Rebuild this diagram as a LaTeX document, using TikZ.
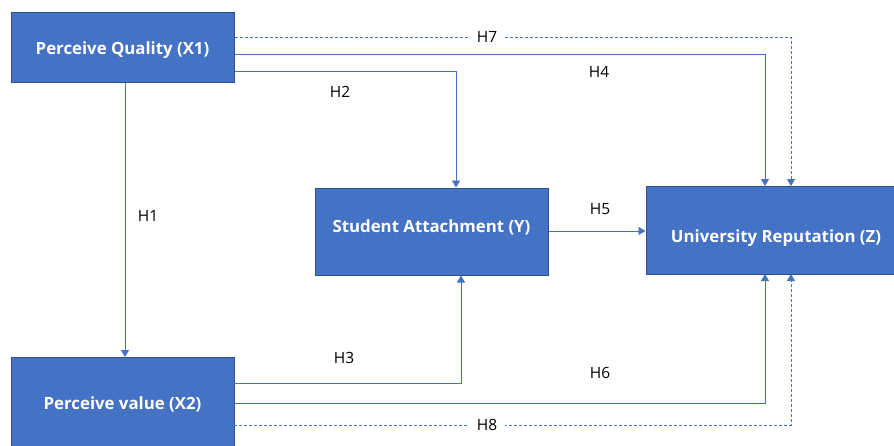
\documentclass[tikz,border=0pt]{standalone}
\usepackage{fontspec}
\setmainfont{Open Sans}
\usetikzlibrary{arrows.meta}
\definecolor{boxfill}{HTML}{4472C4}
\definecolor{boxdraw}{HTML}{2F528F}
\definecolor{linec}{HTML}{4472C4}
\begin{document}
\begin{tikzpicture}[x=1pt,y=-1pt,
  box/.style={draw=boxdraw,fill=boxfill,line width=1pt,inner sep=0pt},
  btext/.style={text=white,font=\fontsize{16.8}{20}\selectfont\bfseries,inner sep=0pt},
  link/.style={draw=linec,line width=0.8pt,-{Triangle[width=8pt,length=7pt]}},
  dlink/.style={link,dash pattern=on 3pt off 2pt},
  lab/.style={font=\fontsize{15.5}{18}\selectfont,text=black,inner sep=1pt}]
\useasboundingbox (0,0) rectangle (894,445);
\fill[white] (0,0) rectangle (894,445);
\node[box,minimum width=223pt,minimum height=70pt] (x1) at (122.5,47) {};
\node[btext] at (122.5,50) {Perceive Quality (X1)};
\path[box] (11,357) rectangle (234,446);
\node[btext] (x2) at (122.5,404) {Perceive value (X2)};
\node[box,minimum width=233pt,minimum height=87pt] (y) at (431.5,231.5) {};
\node[btext] at (431.5,227) {Student Attachment (Y)};
\node[box,minimum width=248pt,minimum height=88pt] (z) at (770,230) {};
\node[btext] at (776,238) {University Reputation (Z)};
\coordinate (x2e) at (234,400);
% H7
\draw[dlink] (x1.east |- 0,37) -- (791,37) -- (791,186);
\node[lab,fill=white,inner xsep=8pt] at (487,37) {H7};
% H4
\draw[link] (x1.east |- 0,54) -- (765,54) -- (765,186);
\node[lab] at (599,72) {H4};
% H2
\draw[link] (x1.east |- 0,71) -- (456,71) -- (y.north -| 456,0);
\node[lab] at (340,92) {H2};
% H1
\draw[link] (x1.south -| 125,0) -- (125,357);
\node[lab] at (148,216) {H1};
% H5
\draw[link] (y.east |- 0,231) -- (z.west |- 0,231);
\node[lab] at (600,209) {H5};
% H3
\draw[link] (x2e |- 0,383) -- (461,383) -- (y.south -| 461,0);
\node[lab] at (344,358) {H3};
% H6
\draw[link] (x2e |- 0,403) -- (765,403) -- (765,274);
\node[lab] at (600,373) {H6};
% H8
\draw[dlink] (x2e |- 0,425) -- (791,425) -- (791,274);
\node[lab,fill=white,inner xsep=8pt] at (487,425) {H8};
\end{tikzpicture}
\end{document}
